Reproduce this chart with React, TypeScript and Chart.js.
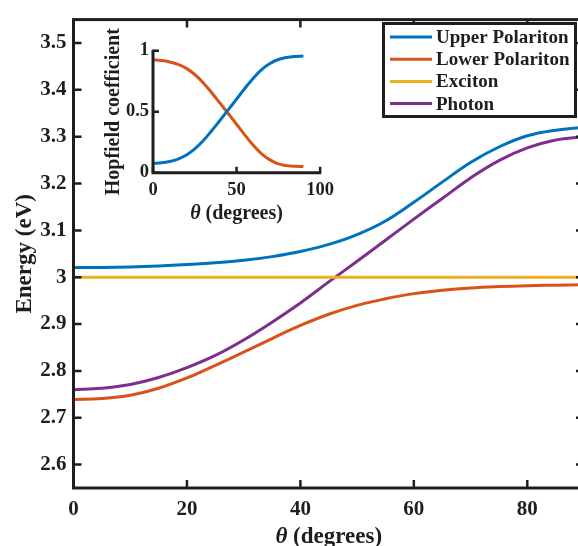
import React, { useEffect, useRef } from 'react';
import { Chart, registerables } from 'chart.js';

Chart.register(...registerables);

// ---------- data ----------
const angles = [0, 5, 10, 15, 20, 25, 30, 35, 40, 45, 50, 55, 60, 65, 70, 75, 80, 85, 90];
const upperPolariton = [3.021, 3.021, 3.022, 3.024, 3.027, 3.031, 3.036, 3.044, 3.055, 3.07, 3.091, 3.12, 3.16, 3.203, 3.245, 3.278, 3.302, 3.314, 3.32];
const lowerPolariton = [2.739, 2.741, 2.748, 2.763, 2.785, 2.812, 2.84, 2.869, 2.897, 2.921, 2.94, 2.954, 2.965, 2.972, 2.977, 2.98, 2.982, 2.983, 2.984];
const exciton = [3.0, 3.0, 3.0, 3.0, 3.0, 3.0, 3.0, 3.0, 3.0, 3.0, 3.0, 3.0, 3.0, 3.0, 3.0, 3.0, 3.0, 3.0, 3.0];
const photon = [2.76, 2.763, 2.771, 2.786, 2.807, 2.833, 2.866, 2.904, 2.945, 2.99, 3.034, 3.079, 3.124, 3.168, 3.212, 3.249, 3.276, 3.293, 3.3];

const hopfieldAngles = [0, 5, 10, 15, 20, 25, 30, 35, 40, 45, 50, 55, 60, 65, 70, 75, 80, 85, 90];
const hopfieldBlue = [0.077, 0.081, 0.092, 0.112, 0.145, 0.195, 0.262, 0.342, 0.428, 0.515, 0.603, 0.692, 0.775, 0.845, 0.895, 0.928, 0.945, 0.953, 0.956];
const hopfieldOrange = [0.924, 0.92, 0.908, 0.888, 0.855, 0.805, 0.738, 0.658, 0.572, 0.485, 0.397, 0.308, 0.225, 0.155, 0.105, 0.072, 0.058, 0.052, 0.05];

const seriesLabels = ['Upper Polariton', 'Lower Polariton', 'Exciton', 'Photon'];
const seriesColors = ['#0072BD', '#D95319', '#EDB120', '#7E2F8E'];

const yTicks = [2.6, 2.7, 2.8, 2.9, 3.0, 3.1, 3.2, 3.3, 3.4, 3.5];
const yTickLabels = ['2.6', '2.7', '2.8', '2.9', '3', '3.1', '3.2', '3.3', '3.4', '3.5'];
const xTicks = [0, 20, 40, 60, 80];
const xTickLabels = ['0', '20', '40', '60', '80'];
const insetXTicks = [0, 50, 100];
const insetXTickLabels = ['0', '50', '100'];
const insetYTicks = [0, 0.5, 1];
const insetYTickLabels = ['0', '0.5', '1'];

const FONT = "'Liberation Serif', 'Times New Roman', serif";
const INK = '#1e1e1e';

const mainFrame = {
  id: 'mainFrame',
  afterDraw(chart: any) {
    const { ctx, chartArea: a, scales } = chart;
    const xs = scales.x;
    const ys = scales.y;
    ctx.save();
    ctx.strokeStyle = INK;
    ctx.lineWidth = 3;
    ctx.strokeRect(a.left, a.top, a.right - a.left, a.bottom - a.top);
    ctx.lineWidth = 2.5;
    const tl = 8;
    ctx.beginPath();
    yTicks.forEach((v) => {
      const p = ys.getPixelForValue(v);
      ctx.moveTo(a.left, p);
      ctx.lineTo(a.left + tl, p);
      ctx.moveTo(a.right, p);
      ctx.lineTo(a.right - tl, p);
    });
    xTicks.forEach((v) => {
      const p = xs.getPixelForValue(v);
      ctx.moveTo(p, a.bottom);
      ctx.lineTo(p, a.bottom - tl);
      ctx.moveTo(p, a.top);
      ctx.lineTo(p, a.top + tl);
    });
    ctx.stroke();

    // axis titles
    ctx.fillStyle = INK;
    ctx.textBaseline = 'alphabetic';
    ctx.font = `bold 23px ${FONT}`;
    ctx.save();
    ctx.translate(31, (a.top + a.bottom) / 2);
    ctx.rotate(-Math.PI / 2);
    ctx.textAlign = 'center';
    ctx.fillText('Energy (eV)', 0, 0);
    ctx.restore();

    const t1 = 'θ';
    const t2 = ' (degrees)';
    ctx.font = `italic bold 23px ${FONT}`;
    const w1 = ctx.measureText(t1).width;
    ctx.font = `bold 23px ${FONT}`;
    const w2 = ctx.measureText(t2).width;
    const cx = (a.left + a.right) / 2;
    const sx = cx - (w1 + w2) / 2;
    ctx.textAlign = 'left';
    ctx.font = `italic bold 23px ${FONT}`;
    ctx.fillText(t1, sx, 543);
    ctx.font = `bold 23px ${FONT}`;
    ctx.fillText(t2, sx + w1, 543);

    // legend
    const lx = 383.5, ly = 23.5, lw = 192, lh = 93;
    ctx.fillStyle = '#fff';
    ctx.fillRect(lx, ly, lw, lh);
    ctx.strokeStyle = INK;
    ctx.lineWidth = 3;
    ctx.strokeRect(lx, ly, lw, lh);
    ctx.font = `bold 19px ${FONT}`;
    ctx.textBaseline = 'middle';
    seriesLabels.forEach((lab, i) => {
      const yy = 37 + i * 22.2;
      ctx.strokeStyle = seriesColors[i];
      ctx.lineWidth = 3;
      ctx.beginPath();
      ctx.moveTo(390, yy);
      ctx.lineTo(432, yy);
      ctx.stroke();
      ctx.fillStyle = INK;
      ctx.fillText(lab, 436, yy + 1);
    });
    ctx.restore();
  },
};

const insetFrame = {
  id: 'insetFrame',
  afterDraw(chart: any) {
    const { ctx, chartArea: a, scales } = chart;
    const xs = scales.x;
    const ys = scales.y;
    ctx.save();
    ctx.strokeStyle = INK;
    ctx.lineWidth = 3;
    ctx.beginPath();
    ctx.moveTo(a.left, a.top - 1);
    ctx.lineTo(a.left, a.bottom);
    ctx.lineTo(a.right + 1, a.bottom);
    ctx.stroke();
    ctx.lineWidth = 2.5;
    ctx.beginPath();
    insetYTicks.forEach((v) => {
      const p = ys.getPixelForValue(v);
      ctx.moveTo(a.left, p);
      ctx.lineTo(a.left + 6, p);
    });
    insetXTicks.forEach((v) => {
      const p = xs.getPixelForValue(v);
      ctx.moveTo(p, a.bottom);
      ctx.lineTo(p, a.bottom - 6);
    });
    ctx.stroke();

    ctx.fillStyle = INK;
    ctx.textBaseline = 'alphabetic';
    ctx.font = `bold 20px ${FONT}`;
    ctx.save();
    ctx.translate(19, (a.top + a.bottom) / 2);
    ctx.rotate(-Math.PI / 2);
    ctx.textAlign = 'center';
    ctx.fillText('Hopfield coefficient', 0, 0);
    ctx.restore();

    const t1 = 'θ';
    const t2 = ' (degrees)';
    ctx.font = `italic bold 20px ${FONT}`;
    const w1 = ctx.measureText(t1).width;
    ctx.font = `bold 20px ${FONT}`;
    const w2 = ctx.measureText(t2).width;
    const cx = (a.left + a.right) / 2;
    const sx = cx - (w1 + w2) / 2;
    ctx.textAlign = 'left';
    ctx.font = `italic bold 20px ${FONT}`;
    ctx.fillText(t1, sx, 194);
    ctx.font = `bold 20px ${FONT}`;
    ctx.fillText(t2, sx + w1, 194);
    ctx.restore();
  },
};

function pts(xsArr: number[], ysArr: number[]) {
  return xsArr.map((x, i) => ({ x, y: ysArr[i] }));
}

export default function App() {
  const mainRef = useRef<HTMLCanvasElement | null>(null);
  const insetRef = useRef<HTMLCanvasElement | null>(null);

  useEffect(() => {
    const series = [upperPolariton, lowerPolariton, exciton, photon];
    const main = new Chart(mainRef.current as HTMLCanvasElement, {
      type: 'line',
      data: {
        datasets: series.map((s, i) => ({
          label: seriesLabels[i],
          data: pts(angles, s),
          borderColor: seriesColors[i],
          backgroundColor: seriesColors[i],
          borderWidth: 3,
          pointRadius: 0,
          tension: 0.4,
          fill: false,
        })),
      },
      options: {
        responsive: false,
        animation: false,
        devicePixelRatio: 1,
        layout: { padding: { left: 0, top: 12.5, right: 16, bottom: 0 } },
        plugins: { legend: { display: false }, tooltip: { enabled: false } },
        scales: {
          x: {
            type: 'linear',
            min: 0,
            max: 90,
            grid: { display: false, drawTicks: false },
            border: { display: false },
            afterBuildTicks: (s: any) => {
              s.ticks = xTicks.map((v) => ({ value: v }));
            },
            afterFit: (s: any) => {
              s.height = 58;
            },
            ticks: {
              padding: 9,
              color: INK,
              autoSkip: false,
              maxRotation: 0,
              font: { family: FONT, size: 21, weight: 'bold' },
              callback: (v: any) => xTickLabels[xTicks.indexOf(Number(v))] ?? '',
            },
          },
          y: {
            type: 'linear',
            min: 2.55,
            max: 3.55,
            grid: { display: false, drawTicks: false },
            border: { display: false },
            afterBuildTicks: (s: any) => {
              s.ticks = yTicks.map((v) => ({ value: v }));
            },
            afterFit: (s: any) => {
              s.width = 73.5;
            },
            ticks: {
              padding: 7,
              color: INK,
              autoSkip: false,
              font: { family: FONT, size: 21, weight: 'bold' },
              callback: (v: any) => {
                const idx = yTicks.findIndex((t) => Math.abs(t - Number(v)) < 1e-6);
                return idx >= 0 ? yTickLabels[idx] : '';
              },
            },
          },
        },
      } as any,
      plugins: [mainFrame],
    });

    const inset = new Chart(insetRef.current as HTMLCanvasElement, {
      type: 'line',
      data: {
        datasets: [
          {
            label: 'blue',
            data: pts(hopfieldAngles, hopfieldBlue),
            borderColor: seriesColors[0],
            borderWidth: 3,
            pointRadius: 0,
            tension: 0.4,
            fill: false,
          },
          {
            label: 'orange',
            data: pts(hopfieldAngles, hopfieldOrange),
            borderColor: seriesColors[1],
            borderWidth: 3,
            pointRadius: 0,
            tension: 0.4,
            fill: false,
          },
        ],
      },
      options: {
        responsive: false,
        animation: false,
        devicePixelRatio: 1,
        layout: { padding: { left: 0, top: 25.7, right: 19, bottom: 0 } },
        plugins: { legend: { display: false }, tooltip: { enabled: false } },
        scales: {
          x: {
            type: 'linear',
            min: 0,
            max: 100,
            grid: { display: false, drawTicks: false },
            border: { display: false },
            afterBuildTicks: (s: any) => {
              s.ticks = insetXTicks.map((v) => ({ value: v }));
            },
            afterFit: (s: any) => {
              s.height = 57.3;
            },
            ticks: {
              padding: 6,
              color: INK,
              autoSkip: false,
              maxRotation: 0,
              font: { family: FONT, size: 18.5, weight: 'bold' },
              callback: (v: any) => insetXTickLabels[insetXTicks.indexOf(Number(v))] ?? '',
            },
          },
          y: {
            type: 'linear',
            min: 0,
            max: 1,
            grid: { display: false, drawTicks: false },
            border: { display: false },
            afterBuildTicks: (s: any) => {
              s.ticks = insetYTicks.map((v) => ({ value: v }));
            },
            afterFit: (s: any) => {
              s.width = 53;
            },
            ticks: {
              padding: 4,
              color: INK,
              autoSkip: false,
              font: { family: FONT, size: 18.5, weight: 'bold' },
              callback: (v: any) => insetYTickLabels[insetYTicks.indexOf(Number(v))] ?? '',
            },
          },
        },
      } as any,
      plugins: [insetFrame],
    });

    return () => {
      main.destroy();
      inset.destroy();
    };
  }, []);

  return (
    <div
      style={{
        position: 'fixed',
        left: 0,
        top: 0,
        width: 578,
        height: 546,
        overflow: 'hidden',
        background: '#fff',
      }}
    >
      <canvas
        ref={mainRef}
        width={600}
        height={546}
        style={{ position: 'absolute', left: 0, top: 0, width: 600, height: 546, display: 'block' }}
      />
      <canvas
        ref={insetRef}
        width={240}
        height={205}
        style={{ position: 'absolute', left: 100, top: 25, width: 240, height: 205, display: 'block' }}
      />
    </div>
  );
}
